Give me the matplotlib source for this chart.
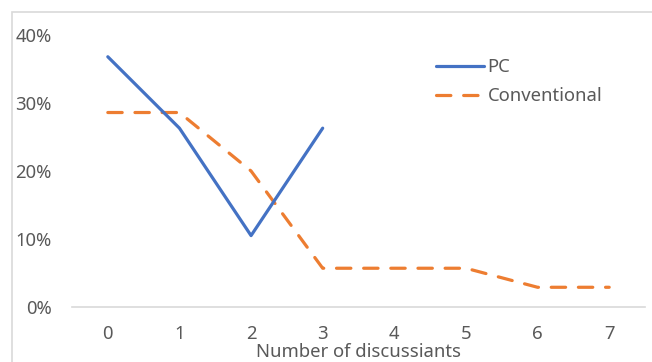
import matplotlib.pyplot as plt
import matplotlib.patches as patches
from matplotlib.ticker import PercentFormatter

plt.rcParams['font.family'] = ['Noto Sans', 'DejaVu Sans']

# data (share of sessions, %)
discussants = [0, 1, 2, 3, 4, 5, 6, 7]
pc_x = [0, 1, 2, 3]
pc_vals = [36.8, 26.3, 10.5, 26.3]
conv_vals = [28.6, 28.6, 20.0, 5.7, 5.7, 5.7, 2.9, 2.9]
y_ticks = [0, 10, 20, 30, 40]

FS = 13.3
fig = plt.figure(figsize=(6.52, 3.62), dpi=100)
fig.set_facecolor('white')
W, H = 652, 362
ax = fig.add_axes([72 / W, 1 - 307 / H, (645 - 72) / W, (307 - 35) / H])

# outer chart-area border (only top and left are visible in the crop)
border = patches.Rectangle((12 / W, -0.1), 1.2, 1.1 - 12 / H,
                           transform=fig.transFigure, fill=False,
                           edgecolor='#d9d9d9', lw=1.2, zorder=0)
fig.add_artist(border)

ax.plot(pc_x, pc_vals, color='#4472C4', lw=2.3, label='PC',
        solid_capstyle='round', solid_joinstyle='round', zorder=3)
ax.plot(discussants, conv_vals, color='#ED7D31', lw=2.3, label='Conventional',
        dashes=(4.5, 4), dash_capstyle='round', zorder=2)

ax.set_xlim(-0.5, 7.5)
ax.set_ylim(0, 40)
ax.set_xticks(discussants)
ax.set_yticks(y_ticks)
ax.yaxis.set_major_formatter(PercentFormatter(decimals=0))

for s in ['top', 'right', 'left']:
    ax.spines[s].set_visible(False)
ax.spines['bottom'].set_color('#d9d9d9')
ax.spines['bottom'].set_linewidth(1.2)
ax.tick_params(length=0, labelsize=FS, colors='#595959')
ax.tick_params(axis='x', pad=13)
ax.tick_params(axis='y', pad=14.5)

ax.set_xlabel('Number of discussiants', fontsize=FS, color='#595959', labelpad=0)

ax.legend(loc='upper left', bbox_to_anchor=(436 / W, 1 - 58 / H),
          bbox_transform=fig.transFigure, frameon=False, fontsize=FS,
          borderpad=0, borderaxespad=0,
          handlelength=2.6, handletextpad=0.2, labelspacing=0.62,
          labelcolor='#595959')

fig.savefig('out.png', dpi=100, facecolor='white')
